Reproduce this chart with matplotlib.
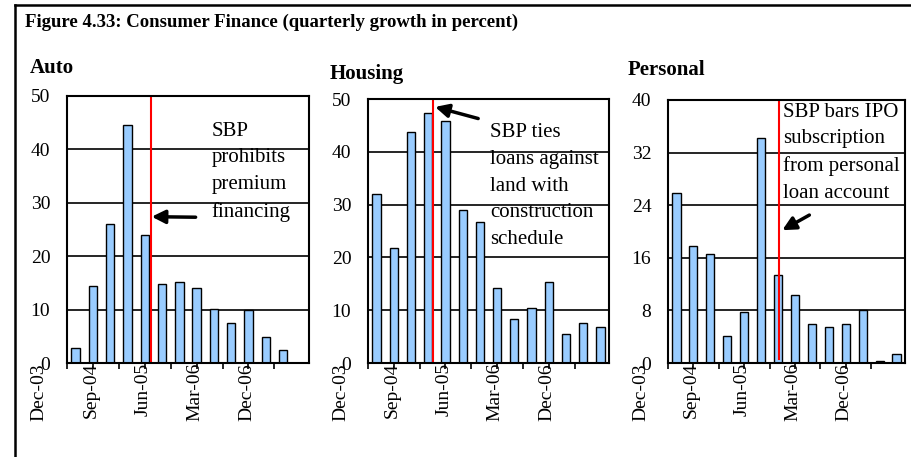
import numpy as np
import matplotlib
matplotlib.use("Agg")
import matplotlib.pyplot as plt
from matplotlib.transforms import blended_transform_factory
from matplotlib.lines import Line2D

plt.rcParams['font.family'] = ['Liberation Serif', 'DejaVu Serif']

# quarterly categories (growth in percent)
dates = ['Dec-03', 'Mar-04', 'Jun-04', 'Sep-04', 'Dec-04', 'Mar-05', 'Jun-05',
         'Sep-05', 'Dec-05', 'Mar-06', 'Jun-06', 'Sep-06', 'Dec-06', 'Mar-07']
auto = [2.9, 14.4, 26.0, 44.6, 23.9, 14.8, 15.1, 14.1, 10.2, 7.4, 9.9, 4.9, 2.5, np.nan]
housing = [32.0, 21.7, 43.7, 47.3, 45.9, 28.9, 26.7, 14.2, 8.3, 10.4, 15.4, 5.4, 7.5, 6.8]
personal = [25.9, 17.8, 16.6, 4.1, 7.8, 34.2, 13.4, 10.3, 6.0, 5.5, 6.0, 8.0, 0.25, 1.4]

panel_titles = ['Auto', 'Housing', 'Personal']
y_max = [50, 50, 40]
y_step = [10, 10, 8]
event_x = [4.35, 3.3, 6.05]   # red policy lines
notes = ['SBP\nprohibits\npremium\nfinancing',
         'SBP ties\nloans against\nland with\nconstruction\nschedule',
         'SBP bars IPO\nsubscription\nfrom personal\nloan account']
label_every = 3

W, H = 912, 457
fig = plt.figure(figsize=(W / 100, H / 100), dpi=100)


def px(x, y):
    return x / W, 1 - y / H


# outer frame (left and top edges visible)
fig.add_artist(Line2D([15 / W, 15 / W], [0, 1 - 5 / H], color='black', lw=1.8))
fig.add_artist(Line2D([15 / W, 1], [1 - 5 / H, 1 - 5 / H], color='black', lw=1.8))

fig.text(*px(25, 26.5), 'Figure 4.33: Consumer Finance (quarterly growth in percent)',
         fontsize=13.5, fontweight='bold', va='baseline', ha='left')

# axes boxes in pixels: left, right, top, bottom
boxes = [(67, 309, 96, 363), (368, 609, 99, 363), (668, 905, 100, 363)]
title_pos = [(30, 73), (330, 79), (628, 75)]
note_pos = [(0.598, 0.904), (0.506, 0.908), (0.484, 0.99)]
arrows = [((6.94, 27.3), (4.4, 27.4)),
          ((5.9, 46.3), (3.4, 48.5)),
          ((7.85, 22.5), (6.25, 20.2))]
series = [auto, housing, personal]

x = np.arange(len(dates))
for i, (L, R, T, B) in enumerate(boxes):
    ax = fig.add_axes([L / W, (H - B) / H, (R - L) / W, (B - T) / H])
    ax.bar(x, series[i], width=0.48, color='#99CCFF', edgecolor='black', lw=1.0)
    ax.set_xlim(-0.5, len(dates) - 0.5)
    ax.set_ylim(0, y_max[i])
    ax.set_yticks(np.arange(0, y_max[i] + 1, y_step[i]))
    ax.yaxis.grid(True, color='black', lw=1.2)
    ax.set_axisbelow(True)
    ax.set_xticks(np.arange(-0.5, len(dates) - 1, 1.5))
    ax.tick_params(axis='x', direction='out', length=4, width=1.2, labelbottom=False)
    ax.tick_params(axis='y', length=0, pad=12, labelsize=14)
    for sp in ax.spines.values():
        sp.set_linewidth(1.5)

    # category labels, every third quarter, shifted like the original
    tr = blended_transform_factory(ax.transData, ax.transAxes)
    for j in range(0, len(dates), label_every):
        ax.text(j - 2.1, 0, dates[j], transform=tr, rotation=90, ha='center',
                va='top', fontsize=14, clip_on=False)

    ax.axvline(event_x[i], color='red', lw=1.5, ymin=0.015 if i == 2 else 0)
    ax.text(note_pos[i][0], note_pos[i][1], notes[i], transform=ax.transAxes,
            ha='left', va='top', fontsize=15, linespacing=1.55)
    (tx, ty), (hx, hy) = arrows[i]
    ax.annotate('', xy=(hx, hy), xytext=(tx, ty),
                arrowprops=dict(arrowstyle='-|>', lw=2.5, color='black',
                                mutation_scale=20, shrinkA=0, shrinkB=0))

    fig.text(*px(*title_pos[i]), panel_titles[i], fontsize=15, fontweight='bold',
             va='baseline', ha='left')

fig.savefig('out.png', dpi=100)
